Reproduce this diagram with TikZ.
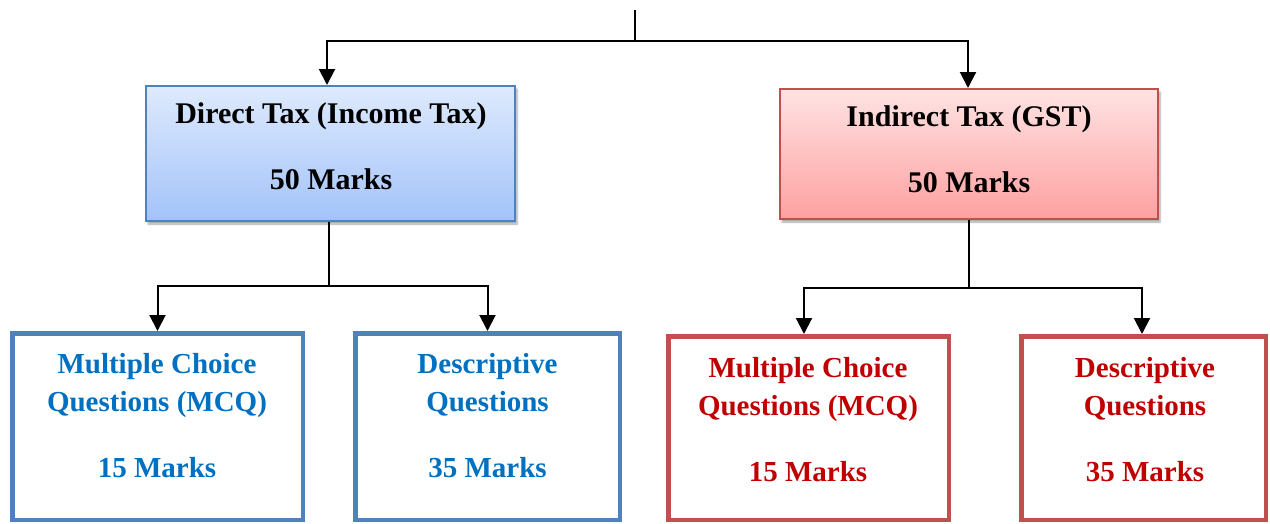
\documentclass[tikz,border=0pt]{standalone}
\usepackage{fontspec}
\setmainfont{Liberation Serif}
\usetikzlibrary{arrows.meta,shadows.blur}

\definecolor{blueedge}{HTML}{4F81BD}
\definecolor{bluetext}{HTML}{0070C0}
\definecolor{bluetop}{HTML}{DEEAFD}
\definecolor{bluebot}{HTML}{A3C3F9}
\definecolor{rededge}{HTML}{C0504D}
\definecolor{redtext}{HTML}{C00000}
\definecolor{redtop}{HTML}{FFE3E3}
\definecolor{redbot}{HTML}{FFA0A0}

\tikzset{
  headbox/.style={draw, line width=2pt, inner sep=0pt,
    blur shadow={shadow xshift=2pt, shadow yshift=-3pt, shadow blur steps=6, shadow opacity=35}},
  dirhead/.style={headbox, draw=blueedge, top color=bluetop, bottom color=bluebot},
  indhead/.style={headbox, draw=rededge, top color=redtop, bottom color=redbot},
  partbox/.style={draw, line width=4.5pt, fill=white, inner sep=0pt},
  dirpart/.style={partbox, draw=blueedge},
  indpart/.style={partbox, draw=rededge},
  label/.style={anchor=base, inner sep=0pt, font=\fontsize{29}{34}\selectfont\bfseries},
  headlabel/.style={label, font=\fontsize{30}{36}\selectfont\bfseries},
  dirlabel/.style={label, text=bluetext},
  indlabel/.style={label, text=redtext},
  link/.style={line width=2pt, draw=black},
  arr/.style={link, -{Triangle[length=16pt,width=16pt]}},
}

\begin{document}
\begin{tikzpicture}[x=1pt,y=-1pt]
\useasboundingbox (0,0) rectangle (1270,523);

% main category boxes
\node[dirhead, minimum width=369pt, minimum height=135pt] (direct) at (330.5,153.5) {};
\node[indhead, minimum width=378pt, minimum height=130pt] (indirect) at (969,154) {};

\node[headlabel] (directT) at (331,123) {Direct Tax (Income Tax)};
\node[headlabel] (directM) at (331,189) {50 Marks};
\node[headlabel] (indirectT) at (969,126) {Indirect Tax (GST)};
\node[headlabel] (indirectM) at (969,192) {50 Marks};

% paper sections
\node[dirpart, minimum width=290.5pt, minimum height=186.5pt] (dmcq) at (157.5,426.5) {};
\node[dirpart, minimum width=264.5pt, minimum height=186.5pt] (ddesc) at (487.5,426.5) {};
\node[indpart, minimum width=280.5pt, minimum height=183.5pt] (imcq) at (808.5,428) {};
\node[indpart, minimum width=244.5pt, minimum height=183.5pt] (idesc) at (1143.5,428) {};

\node[dirlabel] (dmcq1) at (157,373) {Multiple Choice};
\node[dirlabel] (dmcq2) at (157,411) {Questions (MCQ)};
\node[dirlabel] (dmcq3) at (157,477) {15 Marks};
\node[dirlabel] (ddesc1) at (487.5,373) {Descriptive};
\node[dirlabel] (ddesc2) at (487.5,411) {Questions};
\node[dirlabel] (ddesc3) at (487.5,477) {35 Marks};

\node[indlabel] (imcq1) at (808,377) {Multiple Choice};
\node[indlabel] (imcq2) at (808,415) {Questions (MCQ)};
\node[indlabel] (imcq3) at (808,481) {15 Marks};
\node[indlabel] (idesc1) at (1145,377) {Descriptive};
\node[indlabel] (idesc2) at (1145,415) {Questions};
\node[indlabel] (idesc3) at (1145,481) {35 Marks};

% connectors
\coordinate (top) at (635,10);
\coordinate (split) at (635,41);
\coordinate (jd) at (329,286);
\coordinate (ji) at (969,288);

\draw[link] (top) -- (split);
\draw[arr] (split) -| ([xshift=-3.5pt]direct.north);
\draw[arr] (split) -| ([xshift=-1pt]indirect.north);

\draw[link] (direct.south -| jd) -- (jd);
\draw[arr] (jd) -| (dmcq.north);
\draw[arr] (jd) -| (ddesc.north);

\draw[link] (indirect.south) -- (ji);
\draw[arr] (ji) -| ([xshift=-4.5pt]imcq.north);
\draw[arr] (ji) -| ([xshift=-1.5pt]idesc.north);
\end{tikzpicture}
\end{document}
